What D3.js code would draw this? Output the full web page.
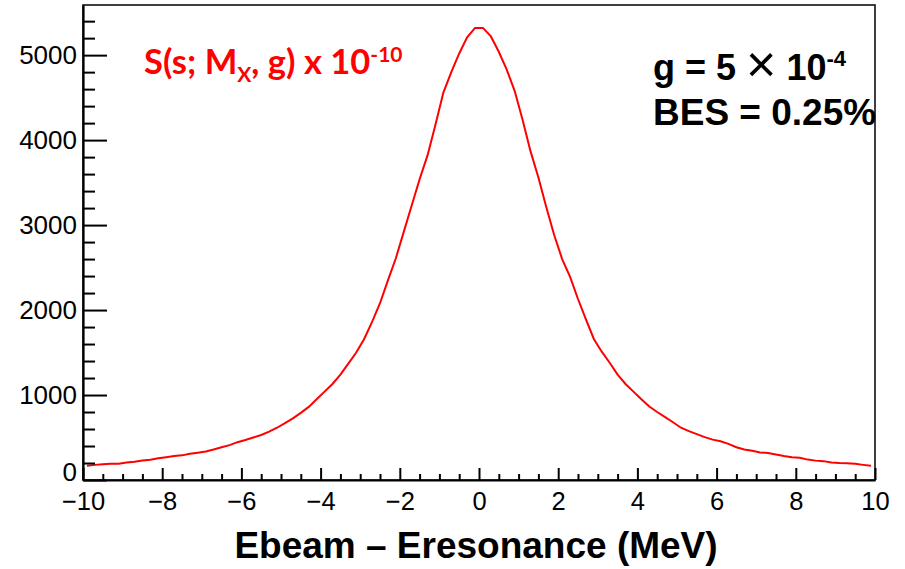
<!DOCTYPE html>
<html><head><meta charset="utf-8">
<script src="https://cdn.jsdelivr.net/npm/d3@7"></script>
<style>body{margin:0;background:#fff} svg{display:block}</style>
</head><body><svg id="c" width="905" height="569"></svg>
<script>
// Histogram: 100 bins of width 0.2 MeV from -10 to 10 (values at bin centres)
const binLow = -10, binWidth = 0.2;
const signal = [
 168,178,186,190,192,205,215,230,238,255,
 268,282,290,310,322,335,360,385,410,445,
 470,500,530,570,615,670,725,790,860,950,
 1040,1130,1240,1370,1500,1660,1860,2080,2350,2610,
 2920,3230,3540,3820,4180,4560,4800,5020,5210,5320,
 5320,5220,5040,4830,4580,4240,3870,3560,3210,2880,
 2600,2390,2130,1890,1660,1510,1380,1240,1130,1040,
 950,865,800,740,680,615,575,540,505,475,
 455,425,385,360,345,325,318,300,282,268,
 262,240,228,222,205,200,198,190,178,168
];
const xTicks = [-10,-8,-6,-4,-2,0,2,4,6,8,10];
const xMinor = [-9.5,-9,-8.5,-7.5,-7,-6.5,-5.5,-5,-4.5,-3.5,-3,-2.5,-1.5,-1,-0.5,0.5,1,1.5,2.5,3,3.5,4.5,5,5.5,6.5,7,7.5,8.5,9,9.5];
const yTicks = [0,1000,2000,3000,4000,5000];
const yMinor = [200,400,600,800,1200,1400,1600,1800,2200,2400,2600,2800,3200,3400,3600,3800,4200,4400,4600,4800,5200,5400];
const xDomain = [-10,10], yDomain = [0,5590];

const svg = d3.select("#c");
const L=83, R=875, T=5, B=480;
const x = d3.scaleLinear().domain(xDomain).range([L,R]);
const y = d3.scaleLinear().domain(yDomain).range([B,T]);
const font = "'Liberation Sans', Arial, Helvetica, sans-serif";

// frame
svg.append("rect").attr("x",L).attr("y",T).attr("width",R-L).attr("height",B-T)
  .attr("fill","none").attr("stroke","#111").attr("stroke-width",1.6);

// data line
const pts = signal.map((v,i)=>[binLow + binWidth*(i+0.5), v]);
svg.append("path").datum(pts)
  .attr("fill","none").attr("stroke","#ff0000").attr("stroke-width",2)
  .attr("d", d3.line().x(d=>x(d[0])).y(d=>y(d[1])));

// x axis
const gx = svg.append("g").attr("transform",`translate(0,${B})`);
gx.call(d3.axisBottom(x).tickValues(xTicks).tickSizeInner(-12).tickSizeOuter(0).tickPadding(11.5).tickFormat(d3.format("d")));
svg.append("g").attr("transform",`translate(0,${B})`)
  .call(d3.axisBottom(x).tickValues(xMinor).tickSizeInner(-6).tickSizeOuter(0).tickFormat(""))
  .call(g=>g.select(".domain").remove());
// y axis
const gy = svg.append("g").attr("transform",`translate(${L},0)`);
gy.call(d3.axisLeft(y).tickValues(yTicks).tickSizeInner(-24).tickSizeOuter(0).tickPadding(6).tickFormat(d3.format("d")));
svg.append("g").attr("transform",`translate(${L},0)`)
  .call(d3.axisLeft(y).tickValues(yMinor).tickSizeInner(-12).tickSizeOuter(0).tickFormat(""))
  .call(g=>g.select(".domain").remove());

svg.selectAll(".tick line").attr("stroke","#000").attr("stroke-width",2);
svg.selectAll(".domain").attr("stroke","#000").attr("stroke-width",2.2);
gx.selectAll("text").attr("font-family",font).attr("font-size",25.5).attr("fill","#000");
gy.selectAll("text").attr("font-family",font).attr("font-size",26).attr("fill","#000");
gy.selectAll(".tick").filter(d=>d===0).select("text").attr("dy","0.02em");

// x title
svg.append("text").attr("x",476).attr("y",558).attr("text-anchor","middle")
  .attr("font-family",font).attr("font-weight","bold").attr("font-size",37)
  .text("Ebeam \u2013 Eresonance (MeV)");

// red label
const red = svg.append("text").attr("x",144).attr("y",74).attr("fill","#ff0000")
  .attr("font-family","Lato, 'Open Sans', sans-serif").attr("font-weight","bold").attr("font-size",34.5);
red.append("tspan").text("S(s; M");
red.append("tspan").attr("font-size",21).attr("dy",8).text("X");
red.append("tspan").attr("dy",-8).text(", g) x 10");
red.append("tspan").attr("font-size",21).attr("dy",-12).text("-10");

// right labels
const g1 = svg.append("text").attr("x",653).attr("y",80)
  .attr("font-family",font).attr("font-weight","bold").attr("font-size",36).attr("fill","#000");
g1.append("tspan").text("g = 5 ");
g1.append("tspan").attr("font-weight","normal").attr("font-size",52).attr("dy",2).text("\u00d7");
g1.append("tspan").attr("dy",-2).text(" 10");
g1.append("tspan").attr("font-size",22).attr("dy",-14).text("-4");
svg.append("text").attr("x",653).attr("y",125)
  .attr("font-family",font).attr("font-weight","bold").attr("font-size",37).attr("fill","#000")
  .text("BES = 0.25%");
</script></body></html>
